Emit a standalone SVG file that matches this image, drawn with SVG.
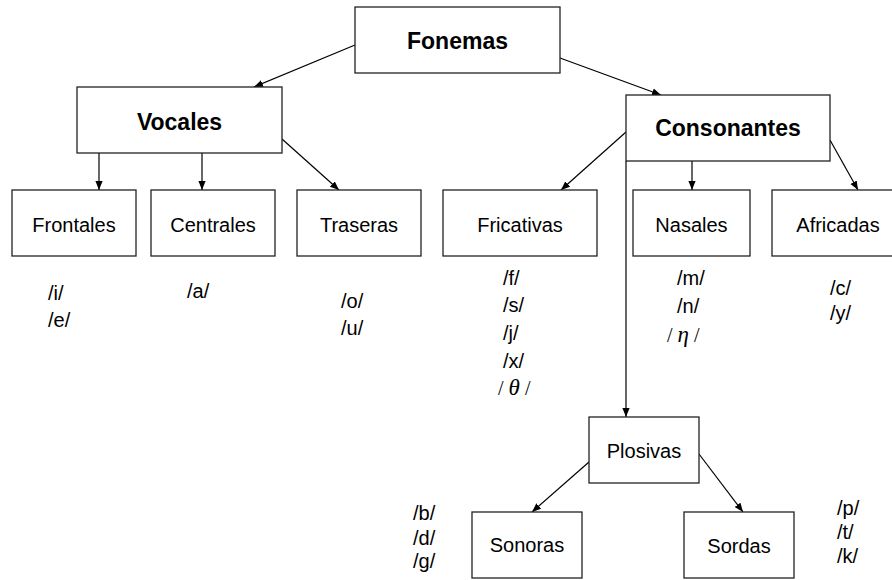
<svg xmlns="http://www.w3.org/2000/svg" width="892" height="580" viewBox="0 0 892 580">
<style>
.box{fill:#fff;stroke:#222;stroke-width:1.3}
.b{font-family:"Liberation Sans",Arial,sans-serif;font-weight:bold;font-size:23px;fill:#000;text-anchor:middle}
.r{font-family:"Liberation Sans",Arial,sans-serif;font-size:20px;fill:#000;text-anchor:middle}
.p{font-family:"Liberation Sans",Arial,sans-serif;font-size:20px;fill:#000}
.g{font-family:"Liberation Serif","Times New Roman",serif;font-size:20px;fill:#000}
.g tspan.i{font-style:italic;font-size:23px}
.c{stroke:#000;stroke-width:1.2;fill:none;marker-end:url(#ah)}
</style>
<defs>
<marker id="ah" viewBox="0 0 10 10" refX="10" refY="5" markerWidth="9" markerHeight="9" markerUnits="userSpaceOnUse" orient="auto">
<path d="M0,1 L10,5 L0,9 z" fill="#000"/>
</marker>
</defs>
<rect width="892" height="580" fill="#fff"/>
<g id="connectors">
<line class="c" x1="355" y1="45" x2="254" y2="87"/>
<line class="c" x1="560" y1="58" x2="661" y2="95"/>
<line class="c" x1="99" y1="153" x2="99" y2="190"/>
<line class="c" x1="202" y1="153" x2="202" y2="190"/>
<line class="c" x1="282" y1="139" x2="339" y2="190"/>
<line class="c" x1="626" y1="132" x2="561" y2="190"/>
<line class="c" x1="692" y1="161" x2="692" y2="190"/>
<line class="c" x1="830" y1="140" x2="858" y2="190"/>
<line class="c" x1="626" y1="161" x2="626" y2="417"/>
<line class="c" x1="589" y1="462" x2="532" y2="512"/>
<line class="c" x1="699" y1="454" x2="743" y2="512"/>
</g>
<g id="fonemas"><rect class="box" x="355" y="7" width="205" height="66"/><text class="b" x="457.5" y="49">Fonemas</text></g>
<g id="vocales"><rect class="box" x="77" y="87" width="205" height="66"/><text class="b" x="179.5" y="130">Vocales</text></g>
<g id="consonantes"><rect class="box" x="626" y="95" width="204" height="66"/><text class="b" x="728" y="136">Consonantes</text></g>
<g id="frontales"><rect class="box" x="12" y="190" width="124" height="66"/><text class="r" x="74" y="232">Frontales</text></g>
<g id="centrales"><rect class="box" x="151" y="190" width="124" height="66"/><text class="r" x="213" y="232">Centrales</text></g>
<g id="traseras"><rect class="box" x="297" y="190" width="124" height="66"/><text class="r" x="359" y="232">Traseras</text></g>
<g id="fricativas"><rect class="box" x="443" y="190" width="154" height="66"/><text class="r" x="520" y="232">Fricativas</text></g>
<g id="nasales"><rect class="box" x="633" y="190" width="117" height="66"/><text class="r" x="691.5" y="232">Nasales</text></g>
<g id="africadas"><rect class="box" x="772" y="190" width="132" height="66"/><text class="r" x="838" y="232">Africadas</text></g>
<g id="plosivas"><rect class="box" x="589" y="417" width="110" height="66"/><text class="r" x="644" y="458">Plosivas</text></g>
<g id="sonoras"><rect class="box" x="472" y="512" width="110" height="66"/><text class="r" x="527" y="552">Sonoras</text></g>
<g id="sordas"><rect class="box" x="684" y="512" width="110" height="66"/><text class="r" x="739" y="553">Sordas</text></g>
<g id="fonemas-lists">
<text class="p" x="48" y="300">/i/</text>
<text class="p" x="48" y="327">/e/</text>
<text class="p" x="187" y="298">/a/</text>
<text class="p" x="341" y="308">/o/</text>
<text class="p" x="341" y="335">/u/</text>
<text class="p" x="503" y="285">/f/</text>
<text class="p" x="503" y="312">/s/</text>
<text class="p" x="503" y="340">/j/</text>
<text class="p" x="503" y="368">/x/</text>
<text class="g" x="498" y="395">/ <tspan class="i">θ</tspan> /</text>
<text class="p" x="677" y="285">/m/</text>
<text class="p" x="677" y="313">/n/</text>
<text class="g" x="667" y="342">/ <tspan class="i">η</tspan> /</text>
<text class="p" x="830" y="295">/c/</text>
<text class="p" x="830" y="320">/y/</text>
<text class="p" x="837" y="515">/p/</text>
<text class="p" x="837" y="539">/t/</text>
<text class="p" x="837" y="563">/k/</text>
<text class="p" x="413" y="520">/b/</text>
<text class="p" x="413" y="545">/d/</text>
<text class="p" x="413" y="568">/g/</text>
</g>
</svg>
